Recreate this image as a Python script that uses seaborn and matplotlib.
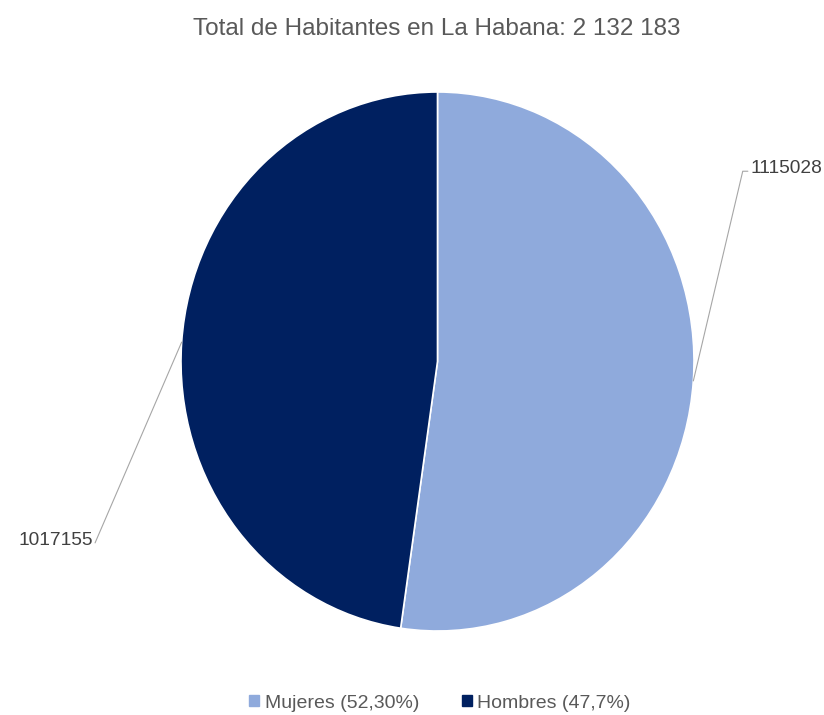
import matplotlib
matplotlib.use("Agg")
import matplotlib.pyplot as plt
import seaborn as sns
import numpy as np

# Population of La Habana by sex
categories = ["Mujeres", "Hombres"]
values = [1115028, 1017155]
legend_labels = ["Mujeres (52,30%)", "Hombres (47,7%)"]
title = "Total de Habitantes en La Habana: 2 132 183"

palette = ["#8FAADC", "#002060"]

sns.set_theme(style="white")
plt.rcParams["font.family"] = ["Liberation Sans", "DejaVu Sans"]

W, H = 824, 715
fig = plt.figure(figsize=(W / 100, H / 100), dpi=100)
fig.patch.set_facecolor("white")

# pie area in pixels (left, top, right, bottom)
px_l, px_t, px_r, px_b = 181, 92, 694, 631
ax = fig.add_axes([px_l / W, 1 - px_b / H, (px_r - px_l) / W, (px_b - px_t) / H])

wedges, _ = ax.pie(values, colors=palette, startangle=90, counterclock=False,
                   radius=1.0, wedgeprops=dict(edgecolor="white", linewidth=1.2))
ax.set_aspect("auto")
ax.set_xlim(-1, 1)
ax.set_ylim(-1, 1)
ax.axis("off")

# data labels with leader lines
label_pos = [(1.19, 0.706, "left"), (-1.335, -0.673, "right")]
for w, v, (lx, ly, ha) in zip(wedges, values, label_pos):
    mid = np.deg2rad((w.theta1 + w.theta2) / 2)
    x0, y0 = np.cos(mid), np.sin(mid)
    if ha == "left":
        xs, ys = [x0, lx, lx + 0.02], [y0, ly, ly]
        tx = lx + 0.03
    else:
        xs, ys = [x0, lx], [y0, ly]
        tx = lx - 0.01
    ax.plot(xs, ys, color="#A6A6A6", lw=0.8, clip_on=False)
    ax.text(tx, ly + 0.01, f"{v}", ha=ha, va="center", fontsize=13.8,
            color="#404040", clip_on=False)

fig.text(437 / W, 1 - 29 / H, title, ha="center", va="center",
         fontsize=17.5, color="#595959")

handles = [plt.Rectangle((0, 0), 1, 1, color=c) for c in palette]
fig.legend(handles, legend_labels, loc="center", bbox_to_anchor=(440 / W, 1 - 703 / H),
           ncol=2, frameon=False, fontsize=14, handlelength=0.5, handleheight=0.5,
           handletextpad=0.3, columnspacing=2.2, labelcolor="#595959")

fig.savefig("out.png", dpi=100, facecolor="white")
